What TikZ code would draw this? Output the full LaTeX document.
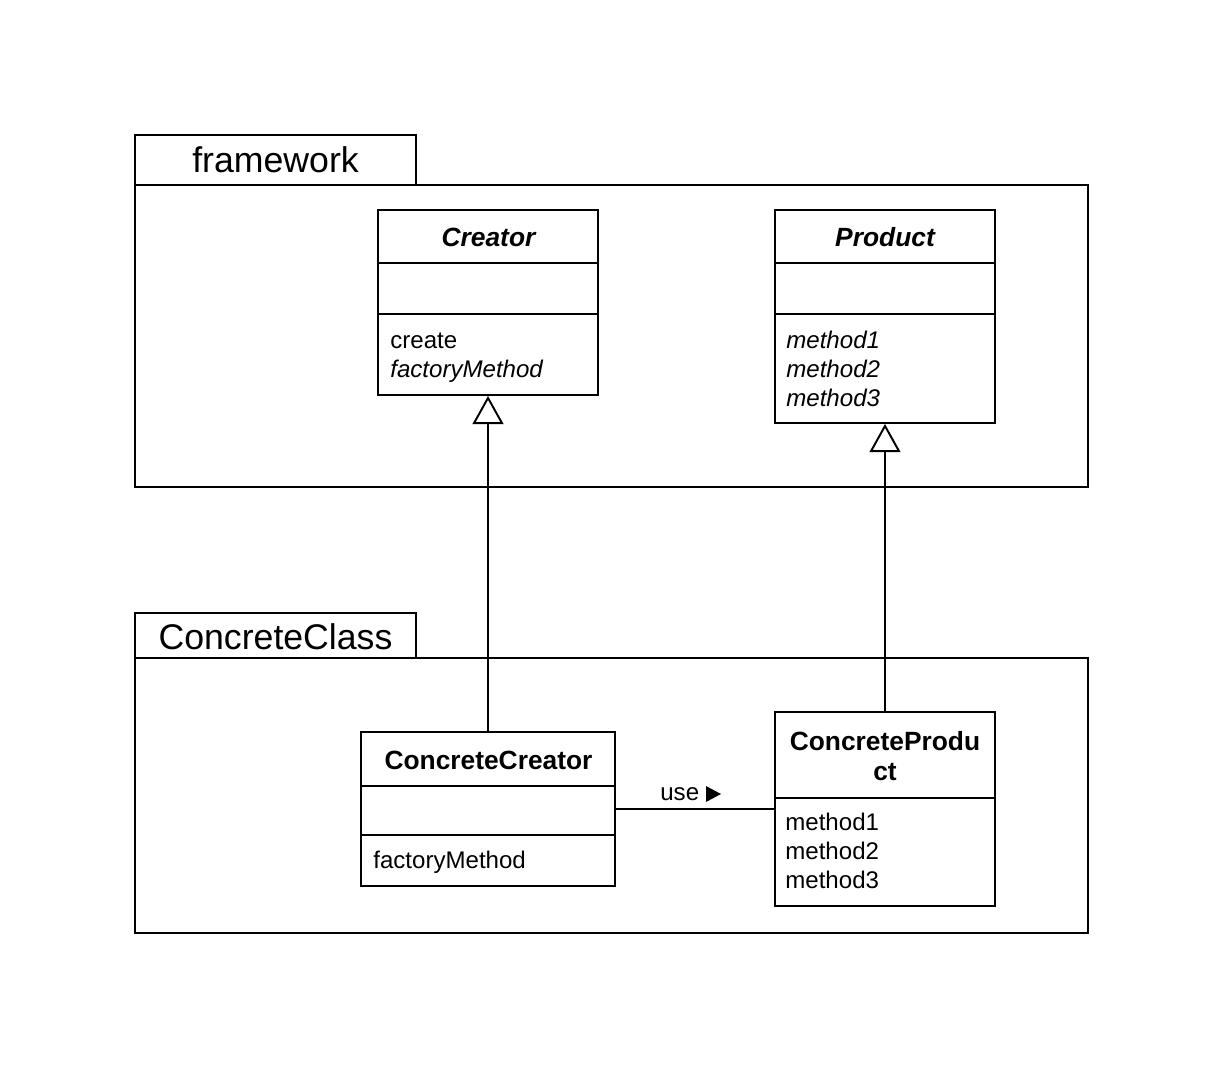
\documentclass[tikz,border=0pt]{standalone}
\usepackage{fontspec}
\setmainfont{Liberation Sans}
\usetikzlibrary{arrows.meta}

\tikzset{
  umlbox/.style={draw, line width=1.1pt, inner sep=0pt},
  pkgline/.style={line width=1.1pt},
  pkgtitle/.style={anchor=base, inner sep=0pt, font=\fontsize{20.3}{24}\selectfont},
  clsname/.style={anchor=base, inner sep=0pt, font=\fontsize{15}{18}\selectfont\bfseries},
  member/.style={anchor=base west, inner sep=0pt, font=\fontsize{13.7}{16}\selectfont},
  inherit/.style={line width=1.1pt, -{Triangle[open, length=16pt, width=17.5pt]}},
}

\begin{document}
\begin{tikzpicture}[x=0.02cm,y=-0.02cm]
\useasboundingbox (0,0) rectangle (1224,1068);

% package framework
\draw[pkgline] (135,135) rectangle (416,185);
\draw[pkgline] (135,185) rectangle (1088,487);
\node[pkgtitle] (framework) at (275.5,173) {framework};

% package ConcreteClass
\draw[pkgline] (135,613) rectangle (416,658);
\draw[pkgline] (135,658) rectangle (1088,933);
\node[pkgtitle] (concreteclass) at (275.5,649) {ConcreteClass};

% Creator
\node[umlbox, minimum width=4.40cm, minimum height=3.70cm] (creator) at (488,302.5) {};
\draw[pkgline] (378,263) -- (598,263);
\draw[pkgline] (378,314) -- (598,314);
\node[clsname] (creatorname) at (488.5,246) {\itshape Creator};
\node[member] (create) at (390,348) {create};
\node[member] (creatorfm) at (390,377) {\itshape factoryMethod};

% Product
\node[umlbox, minimum width=4.40cm, minimum height=4.26cm] (product) at (885,316.5) {};
\draw[pkgline] (775,263) -- (995,263);
\draw[pkgline] (775,314) -- (995,314);
\node[clsname] (productname) at (885,246) {\itshape Product};
\node[member] (pm1) at (786,348) {\itshape method1};
\node[member] (pm2) at (786,377) {\itshape method2};
\node[member] (pm3) at (786,406) {\itshape method3};

% ConcreteCreator
\node[umlbox, minimum width=5.08cm, minimum height=3.08cm] (ccreator) at (488,809) {};
\draw[pkgline] (361,786) -- (615,786);
\draw[pkgline] (361,835) -- (615,835);
\node[clsname] (ccreatorname) at (488.5,769) {ConcreteCreator};
\node[member] (ccreatorfm) at (373,868) {factoryMethod};

% ConcreteProduct
\node[umlbox, minimum width=4.40cm, minimum height=3.88cm] (cproduct) at (885,809) {};
\draw[pkgline] (775,798) -- (995,798);
\node[clsname] (cproductname) at (885,750) {ConcreteProdu};
\node[clsname] (cproductname2) at (885,780) {ct};
\node[member] (cm1) at (785,830) {method1};
\node[member] (cm2) at (785,859) {method2};
\node[member] (cm3) at (785,888) {method3};

% relations
\draw[inherit] (ccreator) -- (creator);
\draw[inherit] (cproduct) -- (product);
\draw[pkgline] (ccreator) -- (cproduct);
\node[member] (use) at (660,800) {use};
\fill (706,786) -- (721,794) -- (706,802) -- cycle;
\end{tikzpicture}
\end{document}
